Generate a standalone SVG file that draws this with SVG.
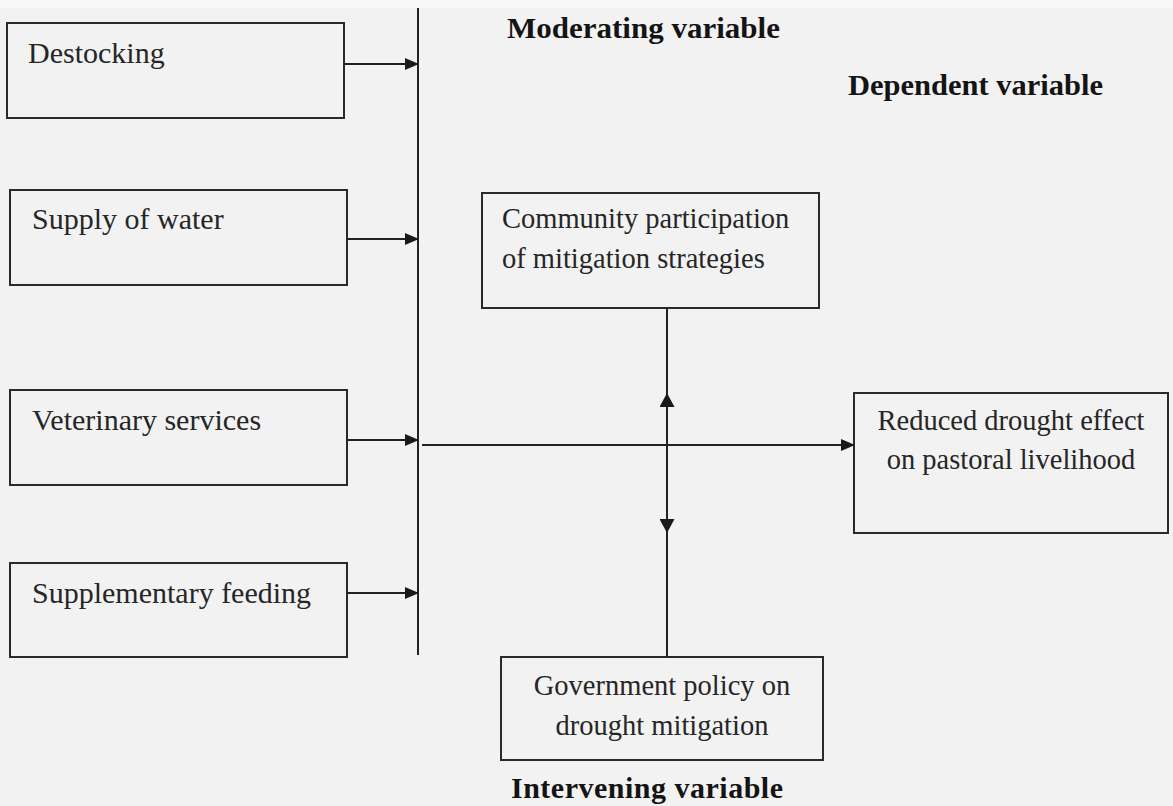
<svg xmlns="http://www.w3.org/2000/svg" width="1173" height="806" viewBox="0 0 1173 806">
<style>
.box{fill:none;stroke:#2a2a2a;stroke-width:2}
.t{font-family:"Liberation Serif","Times New Roman",serif;font-size:30px;fill:#262626}
.ts{font-family:"Liberation Serif","Times New Roman",serif;font-size:28.5px;fill:#262626}
.h{font-family:"Liberation Serif","Times New Roman",serif;font-size:30px;font-weight:bold;fill:#141414}
.ln{stroke:#222;stroke-width:2;fill:none}
</style>
<defs>
<marker id="ah" viewBox="0 0 14 12" refX="13" refY="6" markerWidth="14" markerHeight="12" markerUnits="userSpaceOnUse" orient="auto">
<path d="M0,0 L14,6 L0,12 Z" fill="#1a1a1a"/>
</marker>
<marker id="av" viewBox="0 0 14 15" refX="13" refY="7.5" markerWidth="14" markerHeight="15" markerUnits="userSpaceOnUse" orient="auto">
<path d="M0,0 L14,7.5 L0,15 Z" fill="#1a1a1a"/>
</marker>
</defs>
<rect x="0" y="0" width="1173" height="806" fill="#f2f2f2"/>
<rect x="0" y="0" width="1173" height="8" fill="#f8f8f8"/>

<g id="heading-moderating"><text class="h" x="507" y="38" textLength="273" lengthAdjust="spacingAndGlyphs">Moderating variable</text></g>
<g id="heading-dependent"><text class="h" x="848" y="95" textLength="255" lengthAdjust="spacingAndGlyphs">Dependent variable</text></g>
<g id="heading-intervening"><text class="h" x="511" y="798" textLength="272" lengthAdjust="spacing">Intervening variable</text></g>

<g id="destocking"><rect class="box" x="7" y="23" width="337" height="95"/><text class="t" x="28" y="63">Destocking</text></g>
<g id="supply-water"><rect class="box" x="10" y="190" width="337" height="95"/><text class="t" x="32" y="229">Supply of water</text></g>
<g id="veterinary"><rect class="box" x="10" y="390" width="337" height="95"/><text class="t" x="32" y="430">Veterinary services</text></g>
<g id="supplementary"><rect class="box" x="10" y="563" width="337" height="94"/><text class="t" x="32" y="603">Supplementary feeding</text></g>

<g id="community"><rect class="box" x="482" y="193" width="337" height="115"/><text class="ts" x="502" y="228">Community participation</text><text class="ts" x="502" y="268">of mitigation strategies</text></g>
<g id="reduced"><rect class="box" x="854" y="393" width="314" height="140"/><text class="ts" x="1011" y="430" text-anchor="middle">Reduced drought effect</text><text class="ts" x="1011" y="469" text-anchor="middle">on pastoral livelihood</text></g>
<g id="government"><rect class="box" x="501" y="657" width="322" height="103"/><text class="ts" x="662" y="695" text-anchor="middle">Government policy on</text><text class="ts" x="662" y="735" text-anchor="middle">drought mitigation</text></g>

<g id="connectors">
<line class="ln" x1="418" y1="8" x2="418" y2="655"/>
<line class="ln" x1="344" y1="64" x2="418" y2="64" marker-end="url(#ah)"/>
<line class="ln" x1="347" y1="239" x2="418" y2="239" marker-end="url(#ah)"/>
<line class="ln" x1="347" y1="440" x2="418" y2="440" marker-end="url(#ah)"/>
<line class="ln" x1="347" y1="593" x2="418" y2="593" marker-end="url(#ah)"/>
<line class="ln" x1="422" y1="445" x2="854" y2="445" marker-end="url(#ah)"/>
<line class="ln" x1="667" y1="308" x2="667" y2="657"/>
<line class="ln" x1="667" y1="445" x2="667" y2="394" marker-end="url(#av)"/>
<line class="ln" x1="667" y1="445" x2="667" y2="532" marker-end="url(#av)"/>
</g>
</svg>
